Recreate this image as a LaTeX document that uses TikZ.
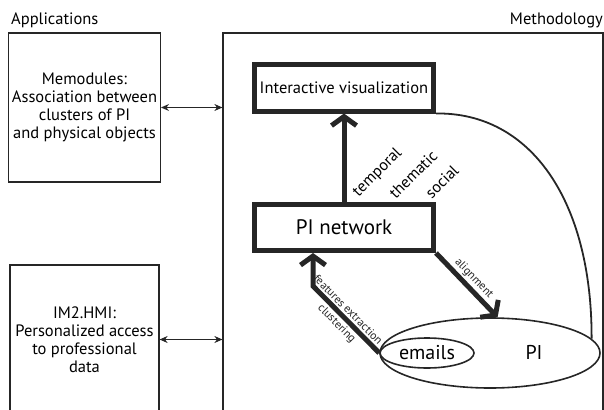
\documentclass[tikz,border=0pt]{standalone}
\usepackage{fontspec}
\setmainfont{PT Sans}
\usepackage{tikz}
\usetikzlibrary{arrows.meta,shapes.geometric,calc}

\tikzset{
  appbox/.style={draw=black!85,line width=1.2pt,minimum width=149pt,minimum height=149pt,
    align=center,font=\fontsize{16.5}{18}\selectfont},
  methbox/.style={draw=black!85,line width=5pt,minimum width=179pt,minimum height=46pt},
  link/.style={{Stealth[length=8pt,width=7pt]}-{Stealth[length=8pt,width=7pt]},line width=1.1pt,black!85},
  flow/.style={line width=5pt,black!85,-{Straight Barb[length=9pt,width=25pt]}},
  tag/.style={font=\fontsize{16}{18}\selectfont,inner sep=0pt,rotate=45,anchor=south west},
  small/.style={font=\fontsize{11.5}{13}\selectfont,sloped,inner sep=2pt}
}

\begin{document}
\begin{tikzpicture}[x=1pt,y=-1pt,line cap=butt]
\useasboundingbox (0,0) rectangle (604,409);
\clip (0,0) rectangle (604,409);

% column titles
\node[anchor=west,font=\fontsize{16.5}{18}\selectfont,inner sep=0pt] (apptitle) at (11,20) {Applications};
\node[anchor=east,font=\fontsize{16.5}{18}\selectfont,inner sep=0pt] (methtitle) at (603,20) {Methodology};

% applications
\node[appbox] (memo) at (84.5,107.5) {Memodules:\\Association between\\clusters of PI\\and physical objects};
\node[appbox] (hmi) at (84.5,339.5) {IM2.HMI:\\Personalized access\\to professional\\data};

% methodology frame
\node[draw=black!85,line width=1.2pt,minimum width=380pt,minimum height=400pt] (meth) at (413,233) {};

\draw[link] (memo.east) -- (memo.east -| meth.west);
\draw[link] (hmi.east) -- (hmi.east -| meth.west);

% boxes of the method
\node[methbox,font=\fontsize{16.5}{20}\selectfont] (vis) at (344,88) {Interactive visualization};
\node[methbox,font=\fontsize{21}{24}\selectfont] (net) at (344,227.5) {PI network};

% PI and emails
\node[ellipse,draw=black!85,line width=1.6pt,minimum width=220pt,minimum height=70pt,inner sep=0pt] (pi) at (490,353) {};
\node[font=\fontsize{20}{22}\selectfont] (pilabel) at (534,352) {PI};
\node[ellipse,draw=black!85,line width=1.6pt,minimum width=94pt,minimum height=30pt,inner sep=0pt,
  font=\fontsize{20}{22}\selectfont] (emails) at (427,353) {emails};

% flows
\draw[flow] (net) -- (vis);
\node[tag] (temporal) at (361,200) {temporal};
\node[tag] (thematic) at (396,200) {thematic};
\node[tag] (social) at (432,200) {social};

\draw[flow] (net.south east) -- node[small,above,pos=0.5] {alignment} (pi.78);

\coordinate (bend) at (313,286);
\draw[flow] (emails.west) -- node[small,above,pos=0.56] {features extraction}
  node[small,below,pos=0.54] {clustering} (bend) -- (bend |- net.south);

\draw[line width=1.8pt,black!85] (vis.south east) .. controls (530,112) and (592,200) .. (pi.8);
\end{tikzpicture}
\end{document}
